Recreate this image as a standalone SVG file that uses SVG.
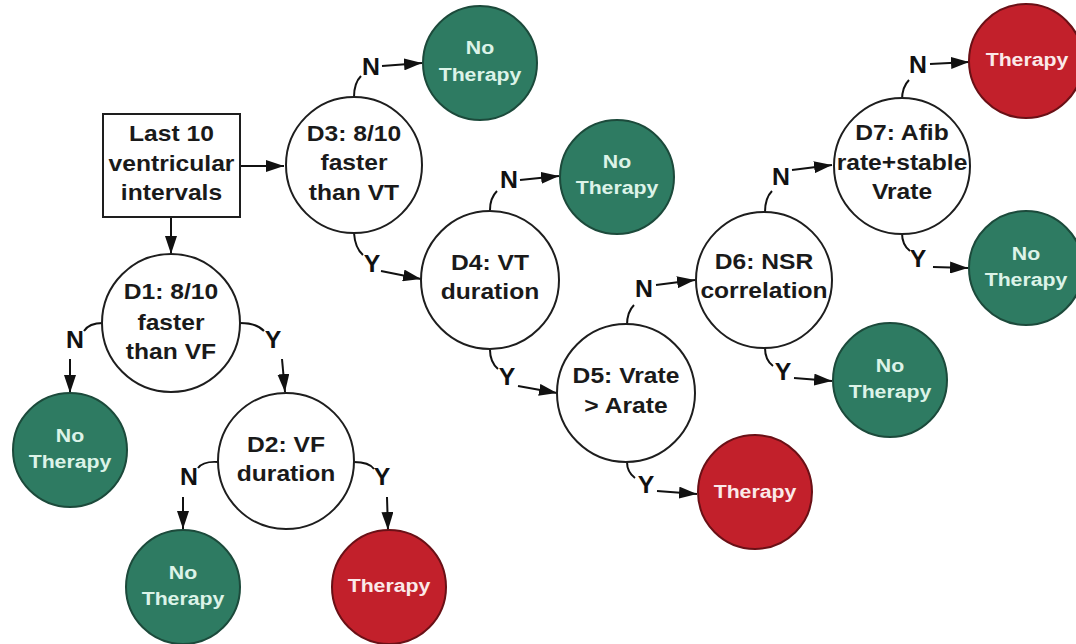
<svg xmlns="http://www.w3.org/2000/svg" width="1076" height="644" viewBox="0 0 1076 644">
<defs>
<marker id="ah" viewBox="0 0 18 12" refX="18" refY="6" markerWidth="18" markerHeight="12" markerUnits="userSpaceOnUse" orient="auto"><path d="M0,0 L18,6 L0,12 z" fill="#111"/></marker>
</defs>
<style>
.dec{fill:#fff;stroke:#1e1e1e;stroke-width:2}
.nt{fill:#2e7b62;stroke:#1c4a3b;stroke-width:2}
.th{fill:#c2202b;stroke:#6a1016;stroke-width:2}
.dt{font-family:"Liberation Sans",Arial,sans-serif;font-weight:bold;font-size:22px;fill:#1a1a1a;text-anchor:middle}
.ot{font-family:"Liberation Sans",Arial,sans-serif;font-weight:bold;font-size:19px;text-anchor:middle}
.ntt{fill:#dcf3e8}
.tht{fill:#fbe9e9}
.lb{font-family:"Liberation Sans",Arial,sans-serif;font-weight:bold;font-size:23px;fill:#111;text-anchor:middle}
.c{fill:none;stroke:#111;stroke-width:2}
.a{fill:none;stroke:#111;stroke-width:2;marker-end:url(#ah)}
</style>
<rect width="1076" height="644" fill="#fff"/>

<g id="connectors">
<path class="a" d="M240 166 L284 166"/>
<path class="a" d="M171 217 L171 254"/>
<path class="c" d="M103 323 Q89 323 84 331"/>
<path class="a" d="M70 359 L70 393"/>
<path class="c" d="M240 323 Q257 323 264 331"/>
<path class="a" d="M282 359 L285 392"/>
<path class="c" d="M218 462 Q203 461 198 468"/>
<path class="a" d="M183 497 L183 529"/>
<path class="c" d="M354 462 Q369 462 374 469"/>
<path class="a" d="M387 497 L388 530"/>
<path class="c" d="M354 97 Q354 83 361 76"/>
<path class="a" d="M382 66 L422 63"/>
<path class="c" d="M354 233 Q355 248 363 255"/>
<path class="a" d="M381 271 L421 279"/>
<path class="c" d="M490 210 Q490 198 497 191"/>
<path class="a" d="M520 180 L559 176"/>
<path class="c" d="M490 350 Q490 362 498 369"/>
<path class="a" d="M518 386 L557 393"/>
<path class="c" d="M627 325 Q627 312 634 305"/>
<path class="a" d="M656 285 L695 280"/>
<path class="c" d="M627 462 Q627 472 635 478"/>
<path class="a" d="M657 491 L697 494"/>
<path class="c" d="M765 212 Q765 198 772 191"/>
<path class="a" d="M792 170 L832 165"/>
<path class="c" d="M765 348 Q765 360 773 366"/>
<path class="a" d="M794 378 L832 381"/>
<path class="c" d="M902 100 Q902 87 909 80"/>
<path class="a" d="M930 64 L969 62"/>
<path class="c" d="M902 233 Q902 245 910 251"/>
<path class="a" d="M933 267 L968 268"/>
<g transform="translate(75 348) scale(1.08 1)"><text class="lb">N</text></g>
<g transform="translate(273 348) scale(1.08 1)"><text class="lb">Y</text></g>
<g transform="translate(189 485) scale(1.08 1)"><text class="lb">N</text></g>
<g transform="translate(382 485) scale(1.08 1)"><text class="lb">Y</text></g>
<g transform="translate(371 75) scale(1.08 1)"><text class="lb">N</text></g>
<g transform="translate(372 272) scale(1.08 1)"><text class="lb">Y</text></g>
<g transform="translate(509 188) scale(1.08 1)"><text class="lb">N</text></g>
<g transform="translate(507 385) scale(1.08 1)"><text class="lb">Y</text></g>
<g transform="translate(644 297) scale(1.08 1)"><text class="lb">N</text></g>
<g transform="translate(646 493) scale(1.08 1)"><text class="lb">Y</text></g>
<g transform="translate(781 185) scale(1.08 1)"><text class="lb">N</text></g>
<g transform="translate(783 380) scale(1.08 1)"><text class="lb">Y</text></g>
<g transform="translate(918 73) scale(1.08 1)"><text class="lb">N</text></g>
<g transform="translate(918 267) scale(1.08 1)"><text class="lb">Y</text></g>
</g>

<g id="start">
<rect x="103" y="114" width="137" height="103" fill="#fff" stroke="#1e1e1e" stroke-width="2"/>
<text class="dt" transform="translate(171.5 0) scale(1.12 1)"><tspan x="0" y="141">Last 10</tspan><tspan x="0" y="171">ventricular</tspan><tspan x="0" y="200">intervals</tspan></text>
</g>

<g id="d1">
<circle class="dec" cx="171" cy="323" r="69"/>
<text class="dt" transform="translate(171 323) scale(1.12 1)"><tspan x="0" y="-24">D1: 8/10</tspan><tspan x="0" y="7">faster</tspan><tspan x="0" y="36">than VF</tspan></text>
</g>
<g id="d1n">
<circle class="nt" cx="70" cy="450" r="57"/>
<text class="ot ntt" transform="translate(70 450) scale(1.12 1)"><tspan x="0" y="-8">No</tspan><tspan x="0" y="18">Therapy</tspan></text>
</g>

<g id="d2">
<circle class="dec" cx="286" cy="461" r="68"/>
<text class="dt" transform="translate(286 461) scale(1.12 1)"><tspan x="0" y="-9">D2: VF</tspan><tspan x="0" y="20">duration</tspan></text>
</g>
<g id="d2n">
<circle class="nt" cx="183" cy="587" r="57"/>
<text class="ot ntt" transform="translate(183 587) scale(1.12 1)"><tspan x="0" y="-8">No</tspan><tspan x="0" y="18">Therapy</tspan></text>
</g>
<g id="d2y">
<circle class="th" cx="389" cy="587" r="57"/>
<text class="ot tht" transform="translate(389 587) scale(1.12 1)"><tspan x="0" y="5">Therapy</tspan></text>
</g>

<g id="d3">
<circle class="dec" cx="354" cy="165" r="68"/>
<text class="dt" transform="translate(354 165) scale(1.12 1)"><tspan x="0" y="-24">D3: 8/10</tspan><tspan x="0" y="5">faster</tspan><tspan x="0" y="35">than VT</tspan></text>
</g>
<g id="d3n">
<circle class="nt" cx="480" cy="63" r="57"/>
<text class="ot ntt" transform="translate(480 63) scale(1.12 1)"><tspan x="0" y="-9">No</tspan><tspan x="0" y="18">Therapy</tspan></text>
</g>

<g id="d4">
<circle class="dec" cx="490" cy="280" r="69"/>
<text class="dt" transform="translate(490 280) scale(1.12 1)"><tspan x="0" y="-10">D4: VT</tspan><tspan x="0" y="19">duration</tspan></text>
</g>
<g id="d4n">
<circle class="nt" cx="617" cy="177" r="57"/>
<text class="ot ntt" transform="translate(617 177) scale(1.12 1)"><tspan x="0" y="-9">No</tspan><tspan x="0" y="17">Therapy</tspan></text>
</g>

<g id="d5">
<circle class="dec" cx="626" cy="393" r="69"/>
<text class="dt" transform="translate(626 393) scale(1.12 1)"><tspan x="0" y="-10">D5: Vrate</tspan><tspan x="0" y="20">&gt; Arate</tspan></text>
</g>
<g id="d5y">
<circle class="th" cx="755" cy="492" r="57"/>
<text class="ot tht" transform="translate(755 492) scale(1.12 1)"><tspan x="0" y="6">Therapy</tspan></text>
</g>

<g id="d6">
<circle class="dec" cx="764" cy="280" r="68"/>
<text class="dt" transform="translate(764 280) scale(1.12 1)"><tspan x="0" y="-11">D6: NSR</tspan><tspan x="0" y="18">correlation</tspan></text>
</g>
<g id="d6y">
<circle class="nt" cx="890" cy="380" r="57"/>
<text class="ot ntt" transform="translate(890 380) scale(1.12 1)"><tspan x="0" y="-8">No</tspan><tspan x="0" y="18">Therapy</tspan></text>
</g>

<g id="d7">
<circle class="dec" cx="902" cy="166" r="68"/>
<text class="dt" transform="translate(902 166) scale(1.12 1)"><tspan x="0" y="-26">D7: Afib</tspan><tspan x="0" y="4">rate+stable</tspan><tspan x="0" y="33">Vrate</tspan></text>
</g>
<g id="d7n">
<circle class="th" cx="1026" cy="61" r="57"/>
<text class="ot tht" transform="translate(1027 61) scale(1.12 1)"><tspan x="0" y="5">Therapy</tspan></text>
</g>
<g id="d7y">
<circle class="nt" cx="1026" cy="268" r="57"/>
<text class="ot ntt" transform="translate(1026 268) scale(1.12 1)"><tspan x="0" y="-8">No</tspan><tspan x="0" y="18">Therapy</tspan></text>
</g>
</svg>
